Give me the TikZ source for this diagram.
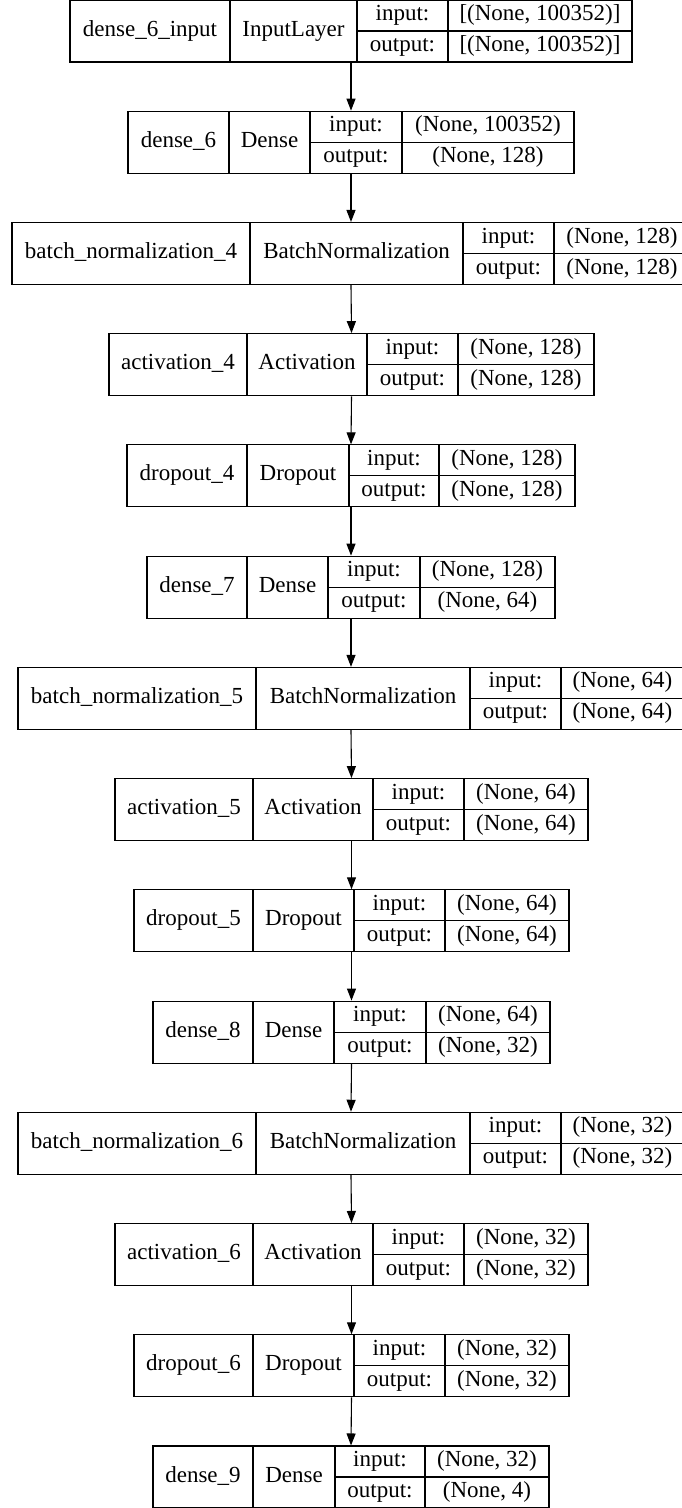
\documentclass[tikz,border=0pt]{standalone}
\usepackage{fontspec}
\setmainfont{Liberation Serif}
\usetikzlibrary{arrows.meta}

\begin{document}
\begin{tikzpicture}[x=1pt,y=-1pt]
\tikzset{layer/.style = {draw,line width=1.1pt,minimum height=62pt,inner sep=0pt}}
\tikzset{cell/.style = {inner sep=0pt,text height=15pt,text depth=5pt,font=\fontsize{23}{27}\selectfont}}
\tikzset{edge/.style = {-{Triangle[length=12pt,width=9pt]},line width=1.1pt}}
\useasboundingbox (0,0) rectangle (681,1508);
% one box per layer: name | type | ports | shapes
\foreach \n/\y/\a/\b/\c/\d/\e/\lab/\typ/\inp/\outp in {
 l1/31/70/230/357/448/632/dense\_6\_input/InputLayer/{[(None, 100352)]}/{[(None, 100352)]},
 l2/142.2/128/229/310/402/574/dense\_6/Dense/{(None, 100352)}/{(None, 128)},
 l3/253.5/12/250/463/554/690/batch\_normalization\_4/BatchNormalization/{(None, 128)}/{(None, 128)},
 l4/364.7/109/247/367/458/594/activation\_4/Activation/{(None, 128)}/{(None, 128)},
 l5/475.9/127/247/349/439/575/dropout\_4/Dropout/{(None, 128)}/{(None, 128)},
 l6/587.2/147/247/328/420/555/dense\_7/Dense/{(None, 128)}/{(None, 64)},
 l7/698.4/18/256/470/561/684/batch\_normalization\_5/BatchNormalization/{(None, 64)}/{(None, 64)},
 l8/809.6/115/253/373/464/588/activation\_5/Activation/{(None, 64)}/{(None, 64)},
 l9/920.8/134/253/354/445/569/dropout\_5/Dropout/{(None, 64)}/{(None, 64)},
 l10/1032.1/153/253/334/426/550/dense\_8/Dense/{(None, 64)}/{(None, 32)},
 l11/1143.3/18/256/470/561/684/batch\_normalization\_6/BatchNormalization/{(None, 32)}/{(None, 32)},
 l12/1254.5/115/253/373/464/588/activation\_6/Activation/{(None, 32)}/{(None, 32)},
 l13/1365.8/134/253/354/445/569/dropout\_6/Dropout/{(None, 32)}/{(None, 32)},
 l14/1477/153/253/335/425/549/dense\_9/Dense/{(None, 32)}/{(None, 4)}}{
 \node[layer,minimum width={(\e-\a)*1pt}] (\n) at ({(\a+\e)/2},\y) {};
 \draw[line width=1.1pt] (\b,\y-31) -- (\b,\y+31) (\c,\y-31) -- (\c,\y+31)
   (\d,\y-31) -- (\d,\y+31) (\c,\y) -- (\e,\y);
 \node[cell] (\n-name) at ({(\a+\b)/2},\y) {\lab};
 \node[cell] (\n-type) at ({(\b+\c)/2},\y) {\typ};
 \node[cell] (\n-in) at ({(\c+\d)/2},\y-15.5) {input:};
 \node[cell] (\n-out) at ({(\c+\d)/2},\y+15.5) {output:};
 \node[cell] (\n-inval) at ({(\d+\e)/2},\y-15.5) {\inp};
 \node[cell] (\n-outval) at ({(\d+\e)/2},\y+15.5) {\outp};
}
\foreach \i [evaluate=\i as \j using int(\i+1)] in {1,...,13}
 \draw[edge] (l\i.south) -- (l\j.north);
\end{tikzpicture}
\end{document}
